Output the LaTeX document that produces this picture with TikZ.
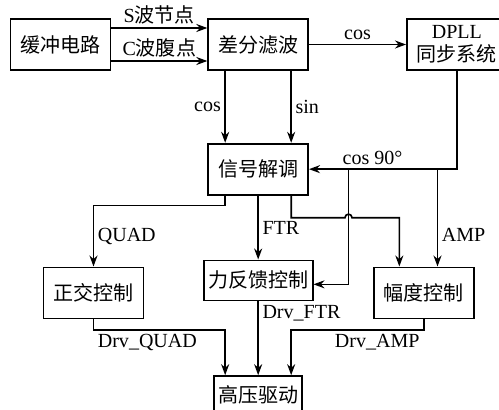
\documentclass[tikz,border=0pt]{standalone}
\usepackage{fontspec}
\setmainfont{Liberation Serif}
\newfontfamily\cjk{Noto Sans CJK SC}
\usetikzlibrary{arrows.meta,positioning}

\begin{document}
\begin{tikzpicture}[
  box/.style={draw, line width=0.95pt, align=center, minimum width=2cm,
              minimum height=1.02cm, inner sep=2pt,
              font=\fontsize{11.4}{13}\selectfont\cjk},
  arr/.style={-{Stealth[length=2.2mm,width=1.6mm]}, line width=0.95pt},
  lbl/.style={font=\fontsize{11.4}{13}\selectfont, inner sep=2pt}
]
\useasboundingbox (0,0) rectangle (9.98,-8.2);
\node[box] (buf) at (1.21,-0.89) {缓冲电路};
\node[box, right=1.92cm of buf] (diff) {差分滤波};
\node[box, right=1.94cm of diff] (dpll) {{\rmfamily DPLL}\\同步系统};
\node[box, below=1.44cm of diff] (demod) {信号解调};
\node[box, below=1.28cm of demod, minimum width=2.18cm, minimum height=0.8cm] (ftr) {力反馈控制};
\node[box, below=1.48cm of ftr, minimum width=1.76cm, minimum height=0.74cm] (hv) {高压驱动};
\node[box, below left=1.42cm and 1.26cm of demod] (quad) {正交控制};
\node[box, below right=1.42cm and 1.28cm of demod] (amp) {幅度控制};
\coordinate[right=0.79cm of demod.east] (jftr);
\coordinate[right=2.57cm of demod.east] (jamp);
\coordinate[below=0.97cm of jftr] (hop);
\draw[arr] ([yshift=0.33cm]buf.east) -- node[lbl, above]{S{\cjk 波节点}} ([yshift=0.33cm]diff.west);
\draw[arr] ([yshift=-0.33cm]buf.east) -- node[lbl, above]{C{\cjk 波腹点}} ([yshift=-0.33cm]diff.west);
\draw[arr] (diff) -- node[lbl, above]{cos} (dpll);
\draw[arr] ([xshift=-0.66cm]diff.south) -- node[lbl, left]{cos} ([xshift=-0.66cm]demod.north);
\draw[arr] ([xshift=0.66cm]diff.south) -- node[lbl, right]{sin} ([xshift=0.66cm]demod.north);
\draw[arr] (dpll.south) |- node[lbl, above, pos=0.785]{cos 90°} (demod.east);
\draw[arr] (jamp) -- node[lbl, right, pos=0.68]{AMP} (jamp |- amp.north);
\draw[arr] (jftr) |- ([yshift=-0.08cm]ftr.east);
\draw[arr] (demod) -- node[lbl, right]{FTR} (ftr);
\draw[arr] ([xshift=-0.66cm]demod.south) -- ++(0,-0.2)
      -| node[lbl, right, pos=0.75]{QUAD} (quad.north);
\draw[arr] ([xshift=0.66cm]demod.south) |- ([xshift=-0.07cm]hop)
      arc[start angle=180, end angle=0, radius=0.07cm] -| ([xshift=-0.49cm]amp.north);
\draw[arr] (quad.south) -- ++(0,-0.22)
      -| node[lbl, below right, pos=0]{Drv\_QUAD} ([xshift=-0.66cm]hv.north);
\draw[arr] (amp.south) -- ++(0,-0.22)
      -| node[lbl, below left, pos=0]{Drv\_AMP} ([xshift=0.66cm]hv.north);
\draw[arr] (ftr) -- node[lbl, below right, pos=0]{Drv\_FTR} (hv);
\end{tikzpicture}
\end{document}
